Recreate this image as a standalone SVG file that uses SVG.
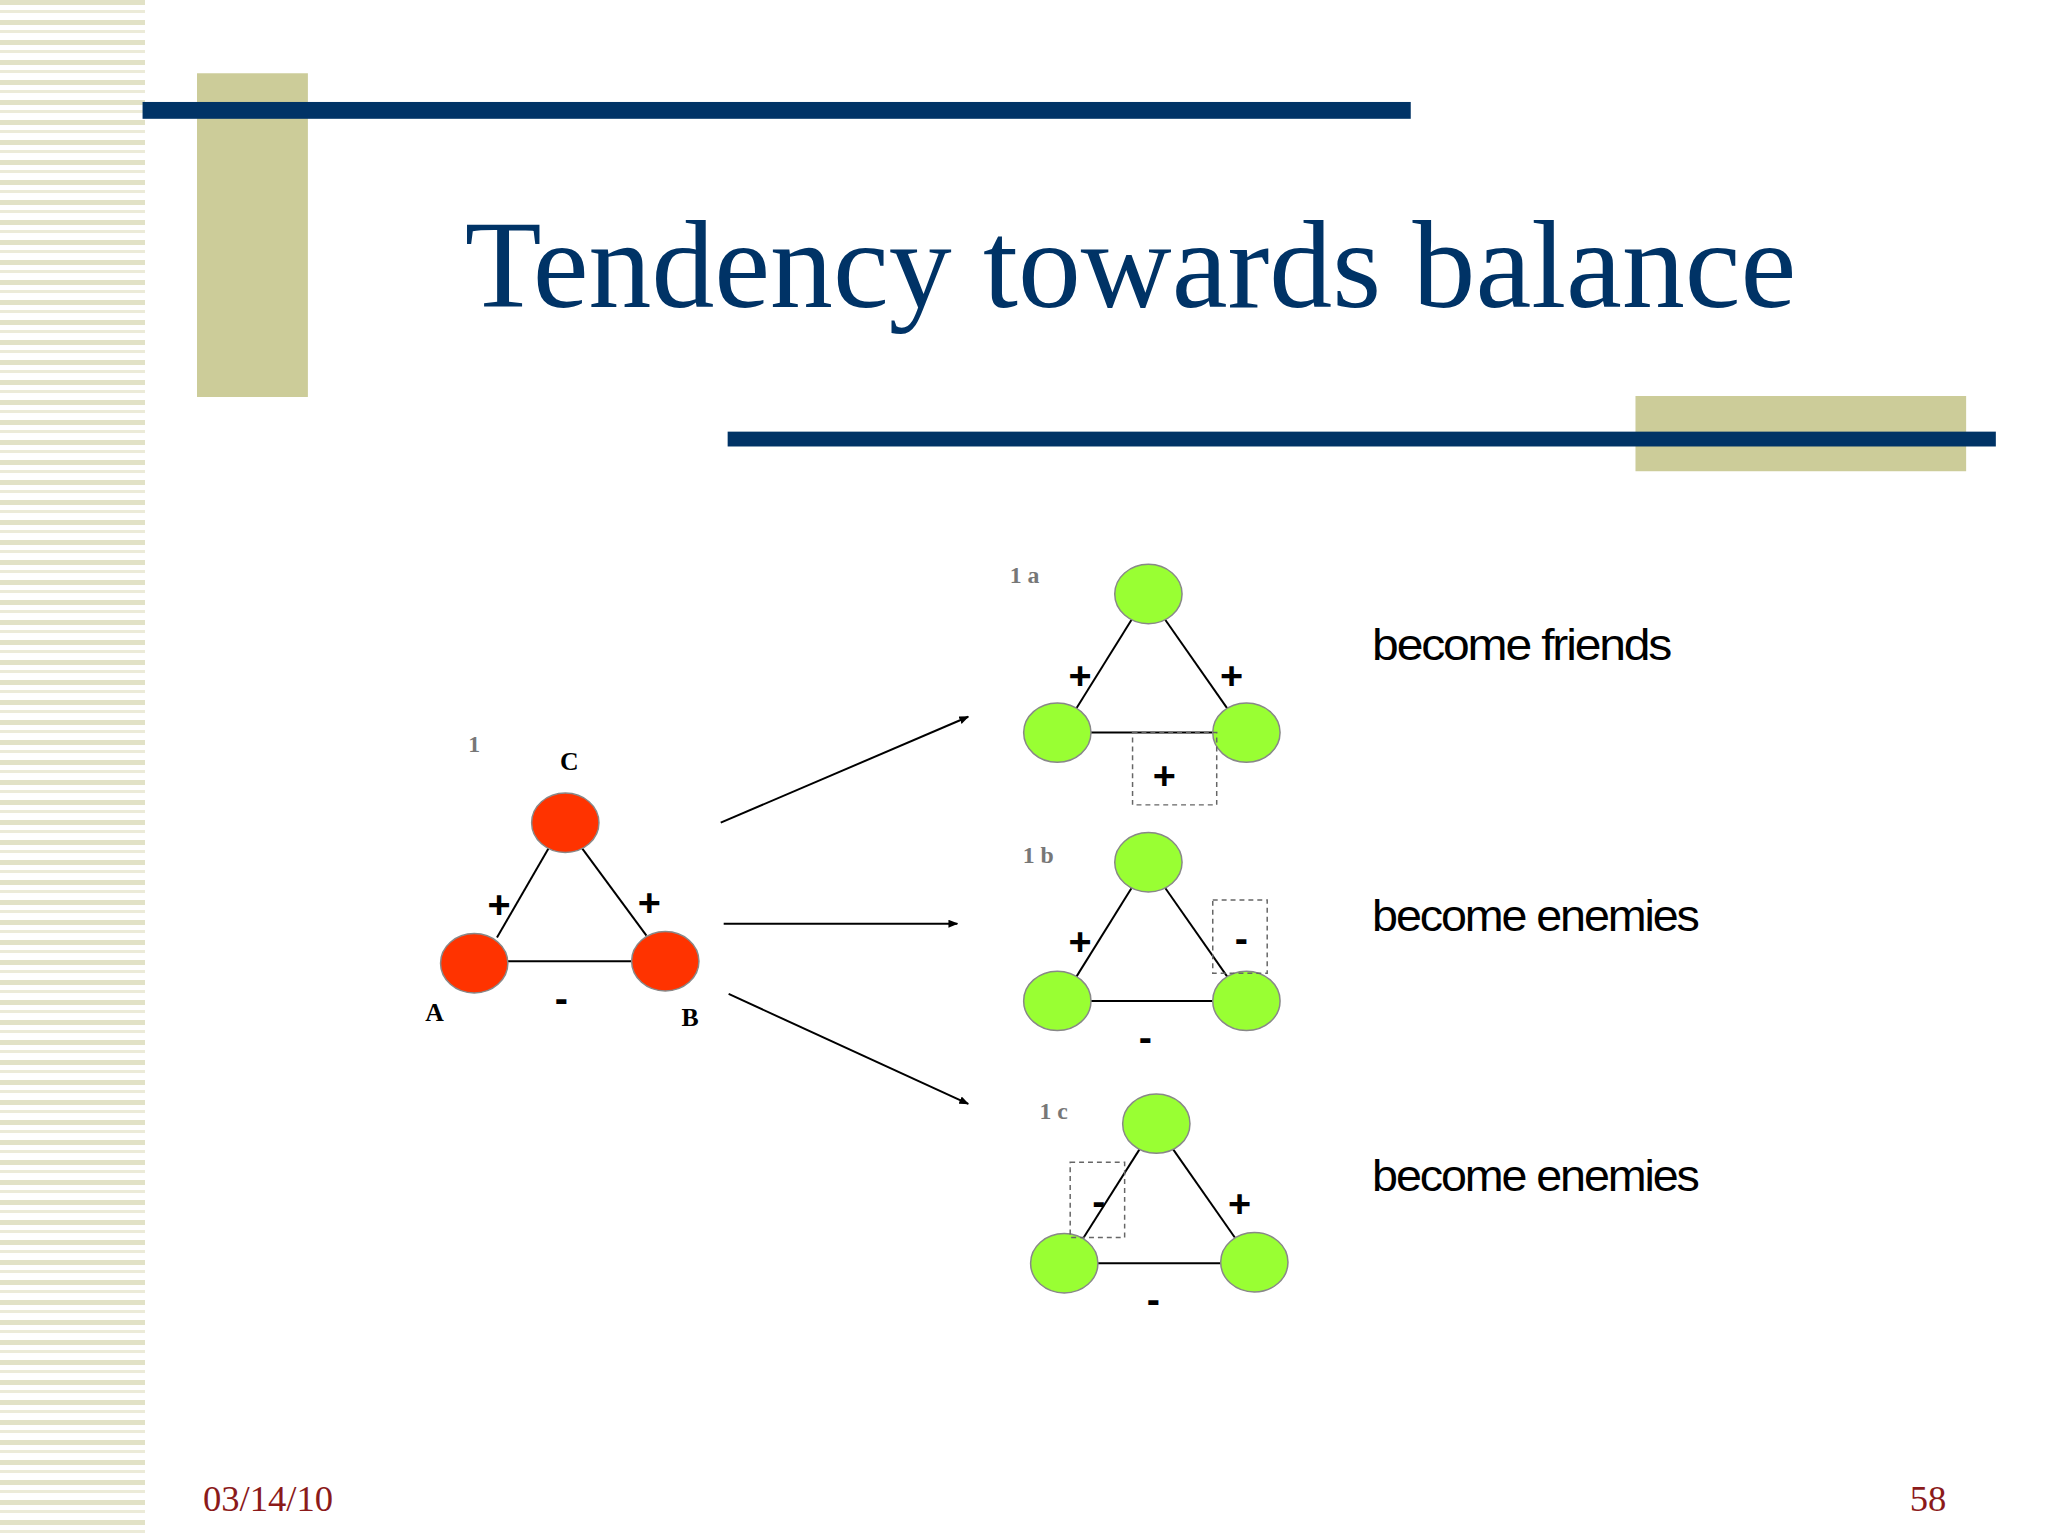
<svg xmlns="http://www.w3.org/2000/svg" width="2048" height="1536" viewBox="0 0 2048 1536">
<defs>
<pattern id="st" width="145" height="20" patternUnits="userSpaceOnUse">
<rect y="0" width="145" height="5" fill="#e2e2c6"/>
<rect y="10" width="145" height="3" fill="#ecebd8"/>
</pattern>
<marker id="ah" markerWidth="10" markerHeight="8" refX="9" refY="4" orient="auto" markerUnits="userSpaceOnUse"><path d="M0,0 L10,4 L0,8 Z" fill="#000"/></marker>
</defs>
<style>
.r{fill:#FF3300;stroke:#888;stroke-width:1.5}
.g{fill:#99FF33;stroke:#888;stroke-width:1.5}
.e{stroke:#000;stroke-width:2;fill:none}
.s{font-family:"Liberation Sans",Arial,sans-serif;font-weight:bold;font-size:40px;text-anchor:middle}
.l{font-family:"Liberation Serif",serif;font-weight:bold;font-size:24px;fill:#777}
.n{font-family:"Liberation Serif",serif;font-weight:bold;font-size:26px;text-anchor:middle}
.b{font-family:"Liberation Sans",Arial,sans-serif;font-size:44px;letter-spacing:-2px}
.d{fill:none;stroke:#666;stroke-width:1.5;stroke-dasharray:5,4}
</style>
<rect width="2048" height="1536" fill="#fff"/>
<rect x="0" y="0" width="145" height="1536" fill="url(#st)"/>
<g transform="scale(0.99)">
<rect x="199" y="74" width="112" height="327" fill="#cccc99"/>
<rect x="144" y="103" width="1281" height="17" fill="#003366"/>
<text x="1142" y="310" font-family="Liberation Serif,serif" font-size="127" fill="#003366" text-anchor="middle">Tendency towards balance</text>
<rect x="1652" y="400" width="334" height="76" fill="#cccc99"/>
<rect x="735" y="436" width="1281" height="15" fill="#003366"/>
<g id="connectors">
<line class="e" x1="554" y1="857" x2="502" y2="947"/>
<line class="e" x1="588" y1="857" x2="653" y2="945"/>
<line class="e" x1="513" y1="971" x2="638" y2="971"/>
<line class="e" x1="728" y1="831" x2="978" y2="724" marker-end="url(#ah)"/>
<line class="e" x1="731" y1="933" x2="967" y2="933" marker-end="url(#ah)"/>
<line class="e" x1="736" y1="1004" x2="978" y2="1115" marker-end="url(#ah)"/>
<line class="e" x1="1143" y1="626" x2="1087" y2="716"/>
<line class="e" x1="1177" y1="626" x2="1240" y2="716"/>
<line class="e" x1="1102" y1="740" x2="1225" y2="740"/>
<line class="e" x1="1143" y1="897" x2="1087" y2="987"/>
<line class="e" x1="1177" y1="897" x2="1240" y2="987"/>
<line class="e" x1="1102" y1="1011" x2="1225" y2="1011"/>
<line class="e" x1="1151" y1="1161" x2="1094" y2="1251"/>
<line class="e" x1="1185" y1="1161" x2="1248" y2="1251"/>
<line class="e" x1="1109" y1="1276" x2="1233" y2="1276"/>
</g>
<g id="C"><ellipse class="r" cx="571" cy="831" rx="34" ry="30"/><text class="n" x="575" y="778">C</text></g>
<g id="A"><ellipse class="r" cx="479" cy="973" rx="34" ry="30"/><text class="n" x="439" y="1031">A</text></g>
<g id="B"><ellipse class="r" cx="672" cy="971" rx="34" ry="30"/><text class="n" x="697" y="1036">B</text></g>
<text class="l" x="473" y="760">1</text>
<text class="s" x="504" y="927">+</text><text class="s" x="656" y="925">+</text><text class="s" x="567" y="1022">-</text>
<g id="g1a">
<ellipse class="g" cx="1160" cy="600" rx="34" ry="30"/><ellipse class="g" cx="1068" cy="740" rx="34" ry="30"/><ellipse class="g" cx="1259" cy="740" rx="34" ry="30"/>
<text class="l" x="1020" y="589">1 a</text>
<text class="s" x="1091" y="696">+</text><text class="s" x="1244" y="696">+</text>
<rect class="d" x="1144" y="740" width="85" height="73"/><text class="s" x="1176" y="797">+</text>
<text class="b" x="1386" y="667" textLength="301" lengthAdjust="spacingAndGlyphs">become friends</text>
</g>
<g id="g1b">
<ellipse class="g" cx="1160" cy="871" rx="34" ry="30"/><ellipse class="g" cx="1068" cy="1011" rx="34" ry="30"/><ellipse class="g" cx="1259" cy="1011" rx="34" ry="30"/>
<text class="l" x="1033" y="872">1 b</text>
<text class="s" x="1091" y="965">+</text>
<rect class="d" x="1225" y="909" width="55" height="74"/><text class="s" x="1254" y="962">-</text>
<text class="s" x="1157" y="1062">-</text>
<text class="b" x="1386" y="940" textLength="329" lengthAdjust="spacingAndGlyphs">become enemies</text>
</g>
<g id="g1c">
<ellipse class="g" cx="1168" cy="1135" rx="34" ry="30"/><ellipse class="g" cx="1075" cy="1276" rx="34" ry="30"/><ellipse class="g" cx="1267" cy="1275" rx="34" ry="30"/>
<text class="l" x="1050" y="1130">1 c</text>
<rect class="d" x="1081" y="1174" width="55" height="76"/><text class="s" x="1110" y="1227">-</text>
<text class="s" x="1252" y="1229">+</text><text class="s" x="1165" y="1326">-</text>
<text class="b" x="1386" y="1203" textLength="329" lengthAdjust="spacingAndGlyphs">become enemies</text>
</g>
<text x="205" y="1526" font-family="Liberation Serif,serif" font-size="37" fill="#8B1A1A">03/14/10</text>
<text x="1966" y="1526" font-family="Liberation Serif,serif" font-size="37" fill="#8B1A1A" text-anchor="end">58</text>
</g>
</svg>
